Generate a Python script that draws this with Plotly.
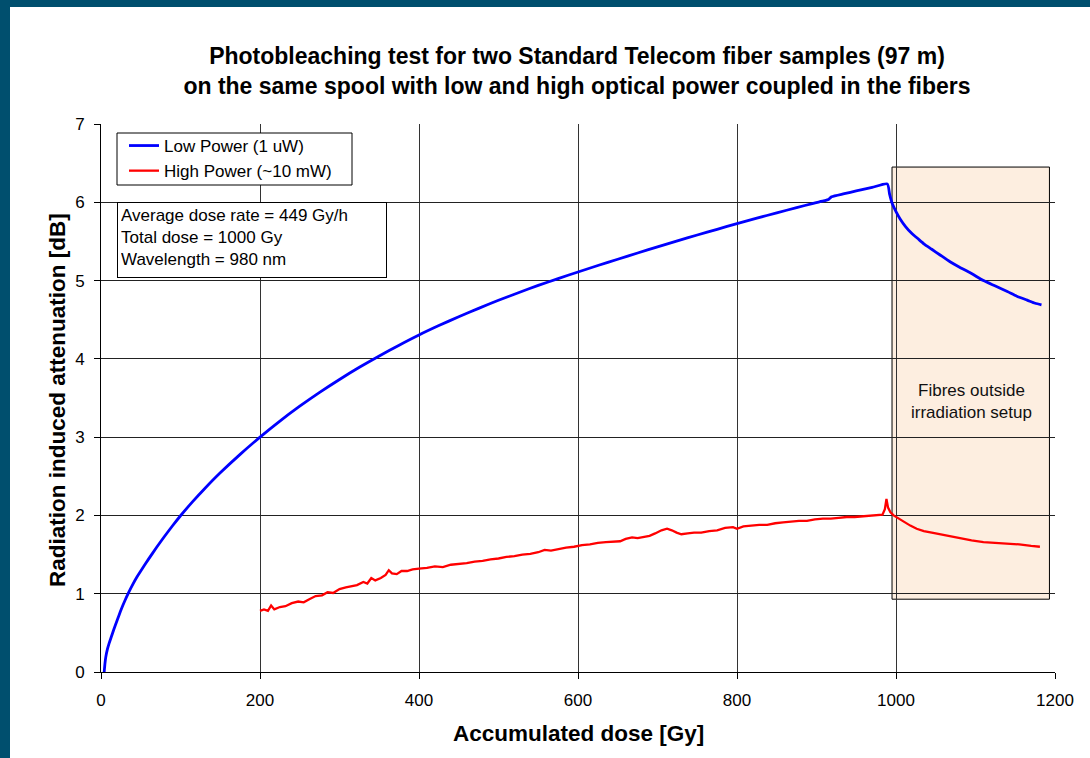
import plotly.graph_objects as go

# ---------------- data ----------------
low_dose = [4, 5, 6, 8, 10, 13, 16, 20, 25, 30, 35, 40, 45, 50, 60, 70, 80, 90, 100,
            115, 130, 150, 175, 200, 225, 250, 275, 300, 325, 350, 375, 400, 425,
            450, 475, 500, 525, 550, 575, 600, 625, 650, 675, 700, 725, 750, 775,
            800, 825, 850, 875, 896, 910, 915, 919, 935, 950, 970, 989,
            992, 995, 1000, 1005, 1012, 1020, 1027, 1035, 1045, 1055, 1068, 1080,
            1095, 1110, 1125, 1140, 1152, 1165, 1175, 1183]
low_att = [0.00, 0.11, 0.19, 0.29, 0.36, 0.45, 0.54, 0.65, 0.79, 0.91, 1.02, 1.12,
           1.21, 1.29, 1.445, 1.593, 1.734, 1.868, 1.996, 2.173, 2.338, 2.544, 2.78,
           3.00, 3.205, 3.395, 3.572, 3.737, 3.892, 4.037, 4.175, 4.305, 4.425,
           4.538, 4.645, 4.748, 4.845, 4.938, 5.025, 5.11, 5.192, 5.272, 5.352,
           5.43, 5.507, 5.582, 5.655, 5.727, 5.797, 5.865, 5.932, 5.987, 6.02,
           6.035, 6.07, 6.11, 6.145, 6.19, 6.235,
           6.10, 5.99, 5.88, 5.79, 5.69, 5.60, 5.54, 5.47, 5.40, 5.33, 5.24, 5.17,
           5.09, 5.00, 4.93, 4.86, 4.80, 4.75, 4.71, 4.69]

high_dose = [200, 205, 210, 214, 218, 225, 232, 240, 248, 255, 262, 270, 278, 285,
             292, 300, 308, 315, 322, 330, 335, 340, 345, 352, 358, 362, 366, 372,
             378, 385, 392, 400, 410, 420, 430, 440, 450, 460, 470, 480, 490, 500,
             510, 520, 530, 540, 550, 558, 566, 575, 585, 595, 605, 615, 625, 635,
             645, 653, 660, 668, 675, 683, 690, 697, 705, 712, 718, 724, 730, 738,
             746, 755, 765, 775, 785, 795, 800, 808, 818, 828, 838, 848, 858, 868,
             878, 888, 898, 908, 918, 928, 938, 948, 958, 968, 976, 983, 986, 988,
             990, 993, 997, 1003, 1010, 1018, 1026, 1035, 1045, 1055, 1068, 1080,
             1095, 1110, 1125, 1140, 1155, 1170, 1181]
high_att = [0.78, 0.80, 0.78, 0.85, 0.80, 0.83, 0.84, 0.88, 0.90, 0.89, 0.93, 0.97,
            0.98, 1.02, 1.01, 1.06, 1.08, 1.10, 1.11, 1.15, 1.13, 1.20, 1.17, 1.20,
            1.24, 1.30, 1.26, 1.25, 1.29, 1.29, 1.31, 1.32, 1.33, 1.35, 1.34, 1.37,
            1.38, 1.39, 1.41, 1.42, 1.44, 1.45, 1.47, 1.48, 1.50, 1.51, 1.53, 1.56,
            1.55, 1.57, 1.59, 1.60, 1.62, 1.63, 1.65, 1.66, 1.67, 1.67, 1.70, 1.72,
            1.71, 1.73, 1.74, 1.77, 1.81, 1.83, 1.81, 1.78, 1.76, 1.77, 1.78, 1.78,
            1.80, 1.81, 1.84, 1.85, 1.83, 1.86, 1.87, 1.88, 1.88, 1.90, 1.91, 1.92,
            1.93, 1.93, 1.95, 1.96, 1.96, 1.97, 1.98, 1.98, 1.99, 2.00, 2.00, 2.01,
            2.08, 2.21, 2.10, 2.04, 2.00, 1.96, 1.92, 1.87, 1.83, 1.80, 1.78, 1.76,
            1.73, 1.71, 1.68, 1.66, 1.65, 1.64, 1.63, 1.61, 1.60]

x_ticks = [0, 200, 400, 600, 800, 1000, 1200]
y_ticks = [0, 1, 2, 3, 4, 5, 6, 7]

title_text = ("<b>Photobleaching test for two Standard Telecom fiber samples (97 m)<br>"
              "on the same spool with low and high optical power coupled in the fibers</b>")
stats_text = "Average dose rate = 449 Gy/h<br>Total dose = 1000 Gy<br>Wavelength = 980 nm"
box_text = "Fibres outside<br>irradiation setup"

FONT = "Arial, Liberation Sans, sans-serif"

fig = go.Figure()
fig.add_trace(go.Scatter(x=low_dose, y=low_att, mode="lines", name="Low Power (1 uW)",
                         line=dict(color="#0000FF", width=2.8, shape="spline",
                                   smoothing=0.6)))
fig.add_trace(go.Scatter(x=high_dose, y=high_att, mode="lines", name="High Power (~10 mW)",
                         line=dict(color="#FF0000", width=2.3)))

W, H = 1090, 758
L, R, T, B = 101, 35, 124, 86
pw, ph = W - L - R, H - T - B

def px(xp):
    return (xp - L) / pw

def py(yp):
    return (H - B - yp) / ph

fig.update_layout(
    width=W, height=H,
    margin=dict(l=L, r=R, t=T, b=B),
    paper_bgcolor="white", plot_bgcolor="white",
    font=dict(family=FONT, color="black", size=17),
    title=dict(text=title_text, x=px(577), xref="paper", xanchor="center",
               y=1 - 64 / H, yref="container", yanchor="middle",
               font=dict(size=23, family=FONT, color="black")),
    showlegend=True,
    legend=dict(x=px(124), y=py(128), xanchor="left", yanchor="top",
                bgcolor="rgba(0,0,0,0)", borderwidth=0,
                font=dict(size=17, family=FONT), itemwidth=30,
                tracegroupgap=0),
    xaxis=dict(range=[0, 1200], tickvals=x_ticks, ticktext=[str(v) for v in x_ticks],
               showgrid=True, gridcolor="#333333", gridwidth=1,
               showline=True, linecolor="black", linewidth=1,
               ticks="outside", ticklen=6, tickcolor="black",
               zeroline=False, tickfont=dict(size=17), ticklabelstandoff=7,
               fixedrange=True),
    yaxis=dict(range=[0, 7], tickvals=y_ticks, ticktext=[str(v) for v in y_ticks],
               showgrid=True, gridcolor="#222222", gridwidth=1,
               showline=True, linecolor="black", linewidth=1,
               ticks="outside", ticklen=6, tickcolor="black",
               zeroline=False, tickfont=dict(size=17), ticklabelstandoff=6,
               fixedrange=True),
)

# shaded region
fig.add_shape(type="rect", xref="x", yref="y", x0=995, x1=1193, y0=0.93, y1=6.45,
              fillcolor="#FDEEE0", line=dict(color="black", width=1), layer="below")

# legend frame
fig.add_shape(type="rect", xref="paper", yref="paper", x0=px(117), x1=px(352),
              y0=py(185), y1=py(133), fillcolor="white",
              line=dict(color="black", width=1), layer="above")

# frame of the slide (teal borders)
fig.add_shape(type="rect", xref="paper", yref="paper", x0=px(0), x1=px(10),
              y0=py(H), y1=py(0), fillcolor="#004F6E", line=dict(width=0), layer="above")
fig.add_shape(type="rect", xref="paper", yref="paper", x0=px(0), x1=px(W),
              y0=py(7), y1=py(0), fillcolor="#004F6E", line=dict(width=0), layer="above")

# annotations
fig.add_annotation(text=stats_text, xref="paper", yref="paper", x=px(117), y=py(202),
                   xanchor="left", yanchor="top", align="left", valign="top",
                   showarrow=False, bgcolor="white", bordercolor="black", borderwidth=1,
                   borderpad=3, width=262, height=68, font=dict(size=17, family=FONT))
fig.add_annotation(text=box_text, xref="x", yref="y", x=1095, y=3.45, showarrow=False,
                   align="center", font=dict(size=17, family=FONT, color="#111111"))
fig.add_annotation(text="<b>Accumulated dose [Gy]</b>", xref="paper", yref="paper",
                   x=px(578), y=py(733), showarrow=False, xanchor="center", yanchor="middle",
                   font=dict(size=22.5, family=FONT))
fig.add_annotation(text="<b>Radiation induced attenuation [dB]</b>", xref="paper", yref="paper",
                   x=px(58), y=py(400), showarrow=False, textangle=-90,
                   xanchor="center", yanchor="middle", font=dict(size=22.5, family=FONT))

fig.write_html("out.html")
